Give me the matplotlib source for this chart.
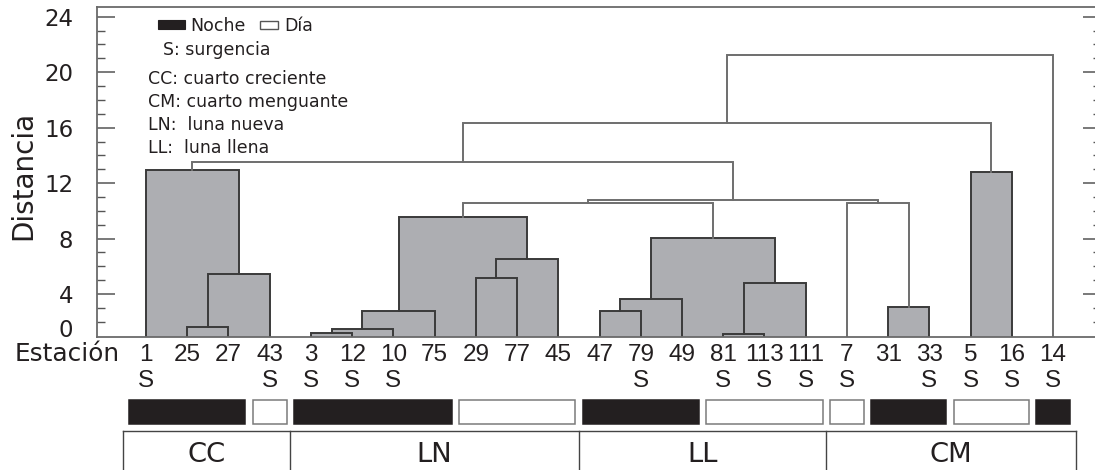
import matplotlib
matplotlib.use("Agg")
import matplotlib.pyplot as plt
from matplotlib.patches import Rectangle

# ---------------- data ----------------
estaciones = ["1", "25", "27", "43", "3", "12", "10", "75", "29", "77", "45",
              "47", "79", "49", "81", "113", "111", "7", "31", "33", "5", "16", "14"]
surgencia = [1, 0, 0, 1, 1, 1, 1, 0, 0, 0, 0, 0, 1, 0, 1, 1, 1, 1, 0, 1, 1, 1, 1]
periodo = ["N", "N", "N", "D", "N", "N", "N", "N", "D", "D", "D",
           "N", "N", "N", "D", "D", "D", "D", "N", "N", "D", "D", "N"]
fase = ["CC"] * 4 + ["LN"] * 7 + ["LL"] * 6 + ["CM"] * 6

# linkage: children are station labels (str) or indices of earlier unions (int)
union_a = ["25", 0, "1", "3", 3, 4, "29", 6, 5, "47", 9, "81", 11, 10, 8, "31", "7", 14, 2, "5", 18, 20]
union_b = ["27", "43", 1, "12", "10", "75", "77", "45", 7, "79", "49", "113", "111", 12, 13, "33", 15, 16, 17, "16", 19, "14"]
altura = [1.62, 5.44, 12.94, 1.15, 1.49, 2.79, 5.15, 6.50, 9.53, 2.77, 3.61, 1.13, 4.77, 8.02,
          10.58, 3.04, 10.54, 10.76, 13.54, 12.82, 16.36, 21.26]
relleno = [True, True, True, True, True, True, True, True, True, True, True, True, True, True,
           False, True, False, False, False, True, False, False]

yticks_major = [4, 8, 12, 16, 20, 24]

# ---------------- style ----------------
GREY = "#adaeb2"
DARK = "#3a3a3a"
LIGHT = "#6e6e6e"
SPINE = "#6a6a6a"
BLACK = "#231f20"
TXT = "#231f20"
FONT = "DejaVu Sans"
LEAF_FONT = ["Liberation Sans", "DejaVu Sans"]

plt.rcParams["font.family"] = FONT
plt.rcParams["text.color"] = TXT
plt.rcParams["ytick.labelcolor"] = TXT

W, H = 1095, 470
fig = plt.figure(figsize=(W / 100, H / 100), dpi=100)
ax_l, ax_r, ax_t, ax_b = 97, 1101, 7, 336.7
ax = fig.add_axes([ax_l / W, 1 - ax_b / H, (ax_r - ax_l) / W, (ax_b - ax_t) / H])


def ay(py):  # pixel row -> axes fraction
    return (ax_b - py) / (ax_b - ax_t)


def axx(px):  # pixel column -> axes fraction
    return (px - ax_l) / (ax_r - ax_l)


# ---------------- dendrogram ----------------
pos = {s: (float(i), 0.0) for i, s in enumerate(estaciones)}
nodes = []


def get(c):
    return pos[c] if isinstance(c, str) else nodes[c]


for a, b, h, f in zip(union_a, union_b, altura, relleno):
    xa, ha = get(a)
    xb, hb = get(b)
    if f:
        ax.bar((xa + xb) / 2, h, width=xb - xa, bottom=0, color=GREY,
               linewidth=0, zorder=1)
    ax.plot([xa, xa, xb, xb], [ha, h, h, hb], color=DARK if f else LIGHT,
            lw=1.4, zorder=2, solid_joinstyle="miter")
    nodes.append(((xa + xb) / 2, h))

# ---------------- axes / ticks ----------------
for s in ax.spines.values():
    s.set_color(SPINE)
    s.set_linewidth(1.3)
ax.set_xticks([])
ax.set_yticks(yticks_major)
ax.set_yticklabels([str(v) for v in yticks_major])
ax.set_yticks([v for v in range(2, 24) if v % 4 != 0], minor=True)
ax.tick_params(axis="y", which="both", direction="in", left=True, right=True,
               labelleft=True, labelright=False, color="#555555")
ax.tick_params(axis="y", which="major", length=13, width=1.1, pad=17, labelsize=16.5)
ax.tick_params(axis="y", which="minor", length=5.8, width=1.0)
ax.text(-(ax_l - 73.3) / (ax_r - ax_l), 1.54, "0", transform=ax.get_yaxis_transform(),
        ha="right", va="center_baseline", fontsize=16.5)

fig.text(23 / W, 1 - 175 / H, "Distancia", rotation=90, ha="center", va="center",
         fontsize=20)

# ---------------- legend ----------------
ax.add_patch(Rectangle((axx(158), ay(29)), axx(185) - axx(158), ay(20) - ay(29),
                       transform=ax.transAxes, facecolor=BLACK, edgecolor=BLACK, lw=0.8))
ax.add_patch(Rectangle((axx(260), ay(29)), axx(278) - axx(260), ay(21) - ay(29),
                       transform=ax.transAxes, facecolor="white", edgecolor="#555555", lw=1.0))
leg_items = [("Noche", 190, 31), ("Día", 284, 31), ("S: surgencia", 163, 55),
             ("CC: cuarto creciente", 148, 84), ("CM: cuarto menguante", 148, 106.5),
             ("LN:  luna nueva", 148, 130), ("LL:  luna llena", 148, 153.3)]
for txt, px, py in leg_items:
    ax.text(axx(px), ay(py), txt, transform=ax.transAxes, ha="left", va="baseline",
            fontsize=12.5)

# ---------------- leaf labels ----------------
xt = ax.get_xaxis_transform()
fig.text(15 / W, 1 - 361 / H, "Estación", ha="left", va="baseline", fontsize=17.8)
for i, s in enumerate(estaciones):
    ax.text(i, ay(361), s, transform=xt, ha="center", va="baseline",
            fontsize=17.5, family=LEAF_FONT, clip_on=False)
    if surgencia[i]:
        ax.text(i, ay(387), "S", transform=xt, ha="center", va="baseline",
                fontsize=17.5, family=LEAF_FONT, clip_on=False)

# ---------------- night/day bars ----------------
runs = []
start = 0
for i in range(1, len(estaciones) + 1):
    if i == len(estaciones) or (fase[i], periodo[i]) != (fase[start], periodo[start]):
        runs.append((start, i - 1, periodo[start]))
        start = i
gap = 0.09
for s0, s1, p in runs:
    ax.bar((s0 + s1) / 2, ay(400) - ay(424), width=(s1 - s0 + 1) - 2 * gap,
           bottom=ay(424), transform=xt, clip_on=False,
           facecolor=BLACK if p == "N" else "white",
           edgecolor=BLACK if p == "N" else "#7a7a7a", lw=1.1)

# ---------------- moon phase boxes ----------------
bounds = [-0.55]
names = [fase[0]]
for i in range(1, len(fase)):
    if fase[i] != fase[i - 1]:
        bounds.append(i - 0.5)
        names.append(fase[i])
bounds.append(len(fase) - 1 + 0.55)
ytop = ay(431)
ax.plot([bounds[0], bounds[-1]], [ytop, ytop], transform=xt, clip_on=False,
        color="#444444", lw=1.0)
for b in bounds:
    ax.plot([b, b], [ytop, ay(480)], transform=xt, clip_on=False, color="#444444", lw=1.0)
for k, nm in enumerate(names):
    ax.text((bounds[k] + bounds[k + 1]) / 2, ay(461.7), nm, transform=xt,
            ha="center", va="baseline", fontsize=19.7, clip_on=False)

ax.set_xlim((ax_l - 146) / 41.23, (ax_r - 146) / 41.23)
ax.set_ylim((349.4 - ax_b) / 13.86, (349.4 - ax_t) / 13.86)

fig.savefig("out.png", dpi=100)
